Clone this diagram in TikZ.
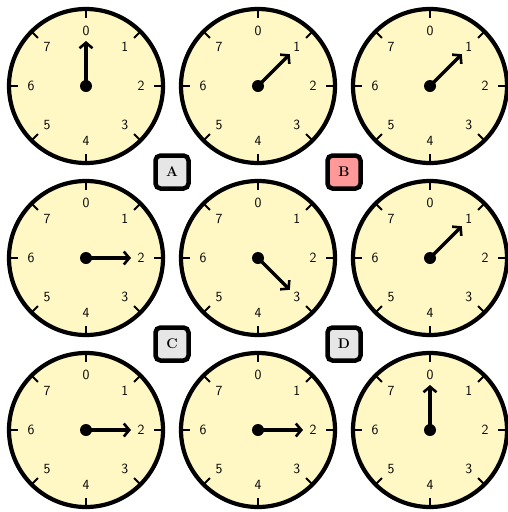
\documentclass[tikz,border=0pt]{standalone}
\usetikzlibrary{arrows.meta,calc}
\definecolor{dialfill}{RGB}{255,248,196}
\definecolor{boxgray}{RGB}{230,230,230}
\definecolor{boxred}{RGB}{255,153,153}
\tikzset{
  dial/.style={circle, draw=black, line width=4.2pt, fill=dialfill, minimum size=154pt, inner sep=0pt},
  ticktick/.style={line width=1.8pt},
  num/.style={font=\sffamily\fontsize{14}{16}\selectfont, inner sep=0pt},
  hand/.style={line width=3.2pt, -{Straight Barb[length=5.5pt,width=13pt,line width=2.6pt]}},
  hub/.style={circle, fill=black, minimum size=12pt, inner sep=0pt},
  tag/.style={draw=black, line width=4.5pt, rounded corners=5pt, minimum size=33pt, inner sep=0pt, font=\bfseries\fontsize{14}{16}\selectfont},
}
\newcommand{\clockdial}[4]{%
  \node[dial] (#1) at (#2,#3) {};
  \foreach \k in {0,...,7} {
    \draw[ticktick] ($(#1.center)+({45*\k-90}:68)$) -- ($(#1.center)+({45*\k-90}:77)$);
    \node[num] (#1n\k) at ($(#1.center)+({45*\k-90}:55)$) {\k};
  }
  \coordinate (#1tip) at ($(#1.center)+({45*#4-90}:45)$);
  \draw[hand] (#1.center) -- (#1tip);
  \node[hub] (#1hub) at (#1.center) {};
}
\begin{document}
\begin{tikzpicture}[x=1pt,y=-1pt]
\useasboundingbox (0,0) rectangle (508,512);
\clip (0,0) rectangle (508,512);
\clockdial{c1}{86}{86}{0}
\clockdial{c2}{258}{86}{1}
\clockdial{c3}{430}{86}{1}
\clockdial{c4}{86}{258}{2}
\clockdial{c5}{258}{258}{3}
\clockdial{c6}{430}{258}{1}
\clockdial{c7}{86}{430}{2}
\clockdial{c8}{258}{430}{2}
\clockdial{c9}{430}{430}{0}
\node[tag, fill=boxgray] (A) at (172,172) {A};
\node[tag, fill=boxred] (B) at (344,172) {B};
\node[tag, fill=boxgray] (C) at (172,344) {C};
\node[tag, fill=boxgray] (D) at (344,344) {D};
\end{tikzpicture}
\end{document}
